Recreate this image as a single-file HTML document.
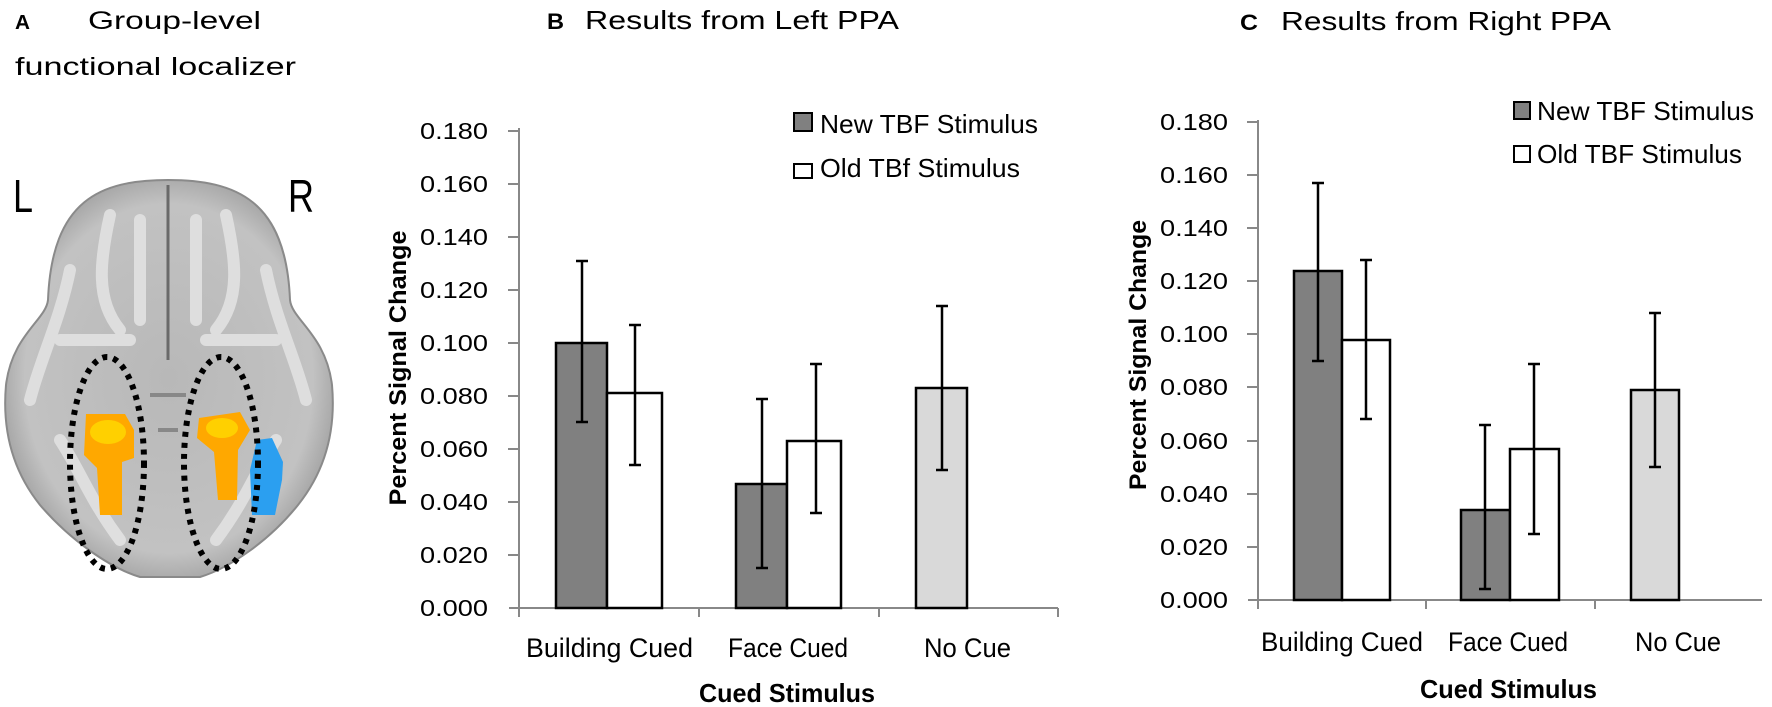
<!DOCTYPE html>
<html><head><meta charset="utf-8"><style>html,body{margin:0;padding:0;background:#fff}svg{display:block}</style></head>
<body>
<svg width="1772" height="707" viewBox="0 0 1772 707" xmlns="http://www.w3.org/2000/svg" font-family="Liberation Sans, sans-serif">
<rect width="1772" height="707" fill="#fff"/>
<!-- Panel A -->
<text x="15" y="29" font-size="20" font-weight="bold" textLength="15" lengthAdjust="spacingAndGlyphs">A</text>
<text x="88" y="29" font-size="25" textLength="173" lengthAdjust="spacingAndGlyphs">Group-level</text>
<text x="15" y="75" font-size="25" textLength="281" lengthAdjust="spacingAndGlyphs">functional localizer</text>
<text x="13" y="212" font-size="46" textLength="20" lengthAdjust="spacingAndGlyphs">L</text>
<text x="288" y="212" font-size="46" textLength="26" lengthAdjust="spacingAndGlyphs">R</text>
<defs>
<radialGradient id="bg" cx="50%" cy="50%" r="55%"><stop offset="0" stop-color="#b8b8b8"/><stop offset="0.8" stop-color="#c2c2c2"/><stop offset="1" stop-color="#9a9a9a"/></radialGradient>
</defs>
<path d="M168 180 C100 180 52 200 48 300 C46 320 12 335 6 385 C2 430 12 470 40 505 C70 540 110 568 140 577 L200 577 C230 568 270 540 298 505 C326 470 336 430 332 385 C326 335 292 320 290 300 C286 200 236 180 168 180 Z" fill="url(#bg)" stroke="#8a8a8a" stroke-width="2"/>
<g fill="none" stroke="#e2e2e2" stroke-width="12" stroke-linecap="round" opacity="0.9">
<path d="M110 215 C100 260 95 300 120 330"/><path d="M226 215 C236 260 241 300 216 330"/>
<path d="M70 270 C60 320 40 360 30 400"/><path d="M266 270 C276 320 296 360 306 400"/>
<path d="M140 220 L140 320"/><path d="M196 220 L196 320"/>
<path d="M60 440 C80 470 90 500 120 540"/><path d="M276 440 C256 470 246 500 216 540"/>
<path d="M60 340 L130 340"/><path d="M206 340 L276 340"/>
</g>
<path d="M168 185 L168 360" stroke="#6a6a6a" stroke-width="3"/>
<path d="M150 395 L186 395 M158 430 L178 430" stroke="#888" stroke-width="4"/>
<path d="M86 414 L125 414 L134 430 L134 458 L122 462 L122 515 L100 515 L97 468 L84 455 Z" fill="#ffa800"/>
<ellipse cx="108" cy="432" rx="18" ry="12" fill="#ffd000"/>
<path d="M199 418 L240 412 L250 430 L238 450 L237 500 L218 500 L214 452 L197 438 Z" fill="#ffa800"/>
<ellipse cx="222" cy="428" rx="16" ry="10" fill="#ffd000"/>
<path d="M257 440 L272 438 L283 462 L282 480 L275 515 L252 515 L250 470 Z" fill="#2b9ff0"/>
<g fill="none" stroke="#000" stroke-width="6" stroke-dasharray="5 6">
<ellipse cx="107" cy="463" rx="37" ry="106"/>
<ellipse cx="221" cy="463" rx="37" ry="106"/>
</g>

<!-- Panel B -->
<text x="547" y="29" font-size="22" font-weight="bold" textLength="17" lengthAdjust="spacingAndGlyphs">B</text>
<text x="585" y="29" font-size="26" textLength="314" lengthAdjust="spacingAndGlyphs">Results from Left PPA</text>
<g stroke="#888" stroke-width="2" fill="none">
<line x1="519" y1="128" x2="519" y2="608"/>
<line x1="509" y1="608" x2="1058" y2="608"/>
<line x1="519" y1="608" x2="519" y2="617"/><line x1="699" y1="608" x2="699" y2="617"/><line x1="879" y1="608" x2="879" y2="617"/><line x1="1058" y1="608" x2="1058" y2="617"/>
<line x1="508" y1="131" x2="519" y2="131"/><line x1="508" y1="184" x2="519" y2="184"/><line x1="508" y1="237" x2="519" y2="237"/><line x1="508" y1="290" x2="519" y2="290"/><line x1="508" y1="343" x2="519" y2="343"/><line x1="508" y1="396" x2="519" y2="396"/><line x1="508" y1="449" x2="519" y2="449"/><line x1="508" y1="502" x2="519" y2="502"/><line x1="508" y1="555" x2="519" y2="555"/>
</g>
<g font-size="23" text-anchor="end">
<text x="488" y="139" textLength="68" lengthAdjust="spacingAndGlyphs">0.180</text>
<text x="488" y="192" textLength="68" lengthAdjust="spacingAndGlyphs">0.160</text>
<text x="488" y="245" textLength="68" lengthAdjust="spacingAndGlyphs">0.140</text>
<text x="488" y="298" textLength="68" lengthAdjust="spacingAndGlyphs">0.120</text>
<text x="488" y="351" textLength="68" lengthAdjust="spacingAndGlyphs">0.100</text>
<text x="488" y="404" textLength="68" lengthAdjust="spacingAndGlyphs">0.080</text>
<text x="488" y="457" textLength="68" lengthAdjust="spacingAndGlyphs">0.060</text>
<text x="488" y="510" textLength="68" lengthAdjust="spacingAndGlyphs">0.040</text>
<text x="488" y="563" textLength="68" lengthAdjust="spacingAndGlyphs">0.020</text>
<text x="488" y="616" textLength="68" lengthAdjust="spacingAndGlyphs">0.000</text>
</g>
<text transform="translate(406,368) rotate(-90)" font-size="24" font-weight="bold" text-anchor="middle" textLength="275" lengthAdjust="spacingAndGlyphs">Percent Signal Change</text>
<g stroke="#000" stroke-width="2.5">
<rect x="556" y="343" width="51" height="265" fill="#808080"/>
<rect x="607" y="393" width="55" height="215" fill="#fff"/>
<rect x="736" y="484" width="51" height="124" fill="#808080"/>
<rect x="787" y="441" width="54" height="167" fill="#fff"/>
<rect x="916" y="388" width="51" height="220" fill="#d9d9d9"/>
</g>
<g stroke="#000" stroke-width="2.5" fill="none">
<path d="M582 261 V422 M576 261 H588 M576 422 H588"/>
<path d="M635 325 V465 M629 325 H641 M629 465 H641"/>
<path d="M762 399 V568 M756 399 H768 M756 568 H768"/>
<path d="M816 364 V513 M810 364 H822 M810 513 H822"/>
<path d="M942 306 V470 M936 306 H948 M936 470 H948"/>
</g>
<rect x="794" y="113" width="18" height="18" fill="#808080" stroke="#000" stroke-width="2"/>
<text x="820" y="133" font-size="26" textLength="218" lengthAdjust="spacingAndGlyphs">New TBF Stimulus</text>
<rect x="794" y="164" width="18" height="14" fill="#fff" stroke="#000" stroke-width="2"/>
<text x="820" y="177" font-size="26" textLength="200" lengthAdjust="spacingAndGlyphs">Old TBf Stimulus</text>
<g font-size="27">
<text x="526" y="657" textLength="167" lengthAdjust="spacingAndGlyphs">Building Cued</text>
<text x="728" y="657" textLength="120" lengthAdjust="spacingAndGlyphs">Face Cued</text>
<text x="924" y="657" textLength="87" lengthAdjust="spacingAndGlyphs">No Cue</text>
</g>
<text x="699" y="702" font-size="26" font-weight="bold" textLength="176" lengthAdjust="spacingAndGlyphs">Cued Stimulus</text>

<!-- Panel C -->
<text x="1240" y="30" font-size="22" font-weight="bold" textLength="18" lengthAdjust="spacingAndGlyphs">C</text>
<text x="1281" y="30" font-size="26" textLength="330" lengthAdjust="spacingAndGlyphs">Results from Right PPA</text>
<g stroke="#888" stroke-width="2" fill="none">
<line x1="1258" y1="120" x2="1258" y2="600"/>
<line x1="1248" y1="600" x2="1762" y2="600"/>
<line x1="1258" y1="600" x2="1258" y2="609"/><line x1="1426" y1="600" x2="1426" y2="609"/><line x1="1595" y1="600" x2="1595" y2="609"/>
<line x1="1247" y1="122" x2="1258" y2="122"/><line x1="1247" y1="175" x2="1258" y2="175"/><line x1="1247" y1="228" x2="1258" y2="228"/><line x1="1247" y1="281" x2="1258" y2="281"/><line x1="1247" y1="334" x2="1258" y2="334"/><line x1="1247" y1="387" x2="1258" y2="387"/><line x1="1247" y1="441" x2="1258" y2="441"/><line x1="1247" y1="494" x2="1258" y2="494"/><line x1="1247" y1="547" x2="1258" y2="547"/>
</g>
<g font-size="23" text-anchor="end">
<text x="1228" y="130" textLength="68" lengthAdjust="spacingAndGlyphs">0.180</text>
<text x="1228" y="183" textLength="68" lengthAdjust="spacingAndGlyphs">0.160</text>
<text x="1228" y="236" textLength="68" lengthAdjust="spacingAndGlyphs">0.140</text>
<text x="1228" y="289" textLength="68" lengthAdjust="spacingAndGlyphs">0.120</text>
<text x="1228" y="342" textLength="68" lengthAdjust="spacingAndGlyphs">0.100</text>
<text x="1228" y="395" textLength="68" lengthAdjust="spacingAndGlyphs">0.080</text>
<text x="1228" y="449" textLength="68" lengthAdjust="spacingAndGlyphs">0.060</text>
<text x="1228" y="502" textLength="68" lengthAdjust="spacingAndGlyphs">0.040</text>
<text x="1228" y="555" textLength="68" lengthAdjust="spacingAndGlyphs">0.020</text>
<text x="1228" y="608" textLength="68" lengthAdjust="spacingAndGlyphs">0.000</text>
</g>
<text transform="translate(1146,355) rotate(-90)" font-size="24" font-weight="bold" text-anchor="middle" textLength="270" lengthAdjust="spacingAndGlyphs">Percent Signal Change</text>
<g stroke="#000" stroke-width="2.5">
<rect x="1294" y="271" width="48" height="329" fill="#808080"/>
<rect x="1342" y="340" width="48" height="260" fill="#fff"/>
<rect x="1461" y="510" width="49" height="90" fill="#808080"/>
<rect x="1510" y="449" width="49" height="151" fill="#fff"/>
<rect x="1631" y="390" width="48" height="210" fill="#d9d9d9"/>
</g>
<g stroke="#000" stroke-width="2.5" fill="none">
<path d="M1318 183 V361 M1312 183 H1324 M1312 361 H1324"/>
<path d="M1366 260 V419 M1360 260 H1372 M1360 419 H1372"/>
<path d="M1485 425 V589 M1479 425 H1491 M1479 589 H1491"/>
<path d="M1534 364 V534 M1528 364 H1540 M1528 534 H1540"/>
<path d="M1655 313 V467 M1649 313 H1661 M1649 467 H1661"/>
</g>
<rect x="1514" y="102" width="16" height="17" fill="#808080" stroke="#000" stroke-width="2"/>
<text x="1537" y="120" font-size="26" textLength="217" lengthAdjust="spacingAndGlyphs">New TBF Stimulus</text>
<rect x="1514" y="146" width="16" height="16" fill="#fff" stroke="#000" stroke-width="2"/>
<text x="1537" y="163" font-size="26" textLength="205" lengthAdjust="spacingAndGlyphs">Old TBF Stimulus</text>
<g font-size="27">
<text x="1261" y="651" textLength="162" lengthAdjust="spacingAndGlyphs">Building Cued</text>
<text x="1448" y="651" textLength="120" lengthAdjust="spacingAndGlyphs">Face Cued</text>
<text x="1635" y="651" textLength="86" lengthAdjust="spacingAndGlyphs">No Cue</text>
</g>
<text x="1420" y="698" font-size="26" font-weight="bold" textLength="177" lengthAdjust="spacingAndGlyphs">Cued Stimulus</text>
</svg>
</body></html>
